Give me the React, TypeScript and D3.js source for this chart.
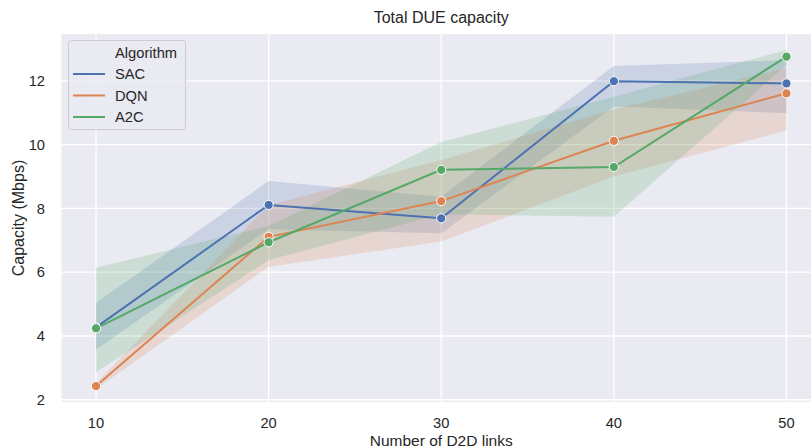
import React from "react";
import * as d3 from "d3";

// number of D2D links
const links = [10, 20, 30, 40, 50];

// mean capacity per algorithm (Mbps)
const sacMean = [4.27, 8.11, 7.69, 11.99, 11.92];
const dqnMean = [2.43, 7.11, 8.23, 10.12, 11.61];
const a2cMean = [4.24, 6.94, 9.21, 9.3, 12.76];

// confidence bands
const sacLow = [3.58, 7.35, 7.22, 11.2, 10.99];
const sacHigh = [5.04, 8.86, 8.37, 12.47, 12.65];
const dqnLow = [2.34, 6.17, 6.96, 9.0, 10.44];
const dqnHigh = [2.52, 8.1, 9.52, 11.1, 12.4];
const a2cLow = [2.86, 6.38, 7.82, 7.74, 12.5];
const a2cHigh = [6.14, 7.45, 10.08, 11.5, 12.97];

const xTicks = [10, 20, 30, 40, 50];
const yTicks = [2, 4, 6, 8, 10, 12];

const seriesNames = ["SAC", "DQN", "A2C"];
const colors = ["#4c72b0", "#dd8452", "#55a868"];

const font = "'Liberation Sans', Arial, sans-serif";
const ink = "#262626";

export default function App() {
  const width = 811;
  const height = 448;
  const margin = { top: 34, left: 61.5, bottom: 402, right: 821 };

  const x = d3.scaleLinear().domain([8, 52]).range([margin.left, margin.right]);
  const y = d3.scaleLinear().domain([1.93, 13.47]).range([margin.bottom, margin.top]);

  const series = [
    { name: seriesNames[0], mean: sacMean, lo: sacLow, hi: sacHigh, color: colors[0] },
    { name: seriesNames[1], mean: dqnMean, lo: dqnLow, hi: dqnHigh, color: colors[1] },
    { name: seriesNames[2], mean: a2cMean, lo: a2cLow, hi: a2cHigh, color: colors[2] },
  ];

  const line = d3.line<number>()
    .x((d, i) => x(links[i]))
    .y(d => y(d));

  const band = (lo: number[], hi: number[]) =>
    d3.area<number>()
      .x((d, i) => x(links[i]))
      .y0((d, i) => y(lo[i]))
      .y1((d, i) => y(hi[i]))(links);

  return (
    <svg width={width} height={height} style={{ position: "absolute", left: 0, top: 0, display: "block" }}>
      <defs>
        <clipPath id="plot">
          <rect x={margin.left} y={margin.top} width={margin.right - margin.left} height={margin.bottom - margin.top} />
        </clipPath>
      </defs>
      <rect width={width} height={height} fill="white" />
      <rect x={margin.left} y={margin.top} width={margin.right - margin.left} height={margin.bottom - margin.top} fill="#eaeaf2" />

      {/* grid */}
      {yTicks.map(t => (
        <line key={"gy" + t} x1={margin.left} x2={margin.right} y1={y(t)} y2={y(t)} stroke="white" strokeWidth={1.3} />
      ))}
      {xTicks.map(t => (
        <line key={"gx" + t} x1={x(t)} x2={x(t)} y1={margin.top} y2={margin.bottom} stroke="white" strokeWidth={1.3} />
      ))}

      <g clipPath="url(#plot)">
        {series.map(s => (
          <path key={"b" + s.name} d={band(s.lo, s.hi) || ""} fill={s.color} fillOpacity={0.2} />
        ))}
        {series.map(s => (
          <g key={"l" + s.name}>
            <path d={line(s.mean) || ""} fill="none" stroke={s.color} strokeWidth={2} />
            {s.mean.map((v, i) => (
              <circle key={i} cx={x(links[i])} cy={y(v)} r={4.6} fill={s.color} stroke="white" strokeWidth={1} />
            ))}
          </g>
        ))}
      </g>

      {/* tick labels */}
      {yTicks.map(t => (
        <text key={"ty" + t} x={45} y={y(t)} dy="0.35em" textAnchor="end" fontFamily={font} fontSize={14.7} fill={ink}>{t}</text>
      ))}
      {xTicks.map(t => (
        <text key={"tx" + t} x={x(t)} y={428} textAnchor="middle" fontFamily={font} fontSize={14.7} fill={ink}>{t}</text>
      ))}

      {/* titles */}
      <text x={(margin.left + margin.right) / 2} y={23} textAnchor="middle" fontFamily={font} fontSize={16} fill={ink}>Total DUE capacity</text>
      <text x={(margin.left + margin.right) / 2} y={446} textAnchor="middle" fontFamily={font} fontSize={15.5} fill={ink}>Number of D2D links</text>
      <text transform={`translate(24,${(margin.top + margin.bottom) / 2}) rotate(-90)`} textAnchor="middle" fontFamily={font} fontSize={16} fill={ink}>Capacity (Mbps)</text>

      {/* legend */}
      <g>
        <rect x={68.5} y={40.5} width={117} height={89} rx={3} fill="#eaeaf2" fillOpacity={0.8} stroke="#cccccc" strokeWidth={1} />
        <text x={115} y={52.7} dy="0.35em" fontFamily={font} fontSize={14.7} fill={ink}>Algorithm</text>
        {series.map((s, i) => (
          <g key={"lg" + s.name}>
            <line x1={73} x2={105} y1={74 + i * 21.5} y2={74 + i * 21.5} stroke={s.color} strokeWidth={2} />
            <text x={115} y={74 + i * 21.5} dy="0.35em" fontFamily={font} fontSize={14.7} fill={ink}>{s.name}</text>
          </g>
        ))}
      </g>
    </svg>
  );
}
